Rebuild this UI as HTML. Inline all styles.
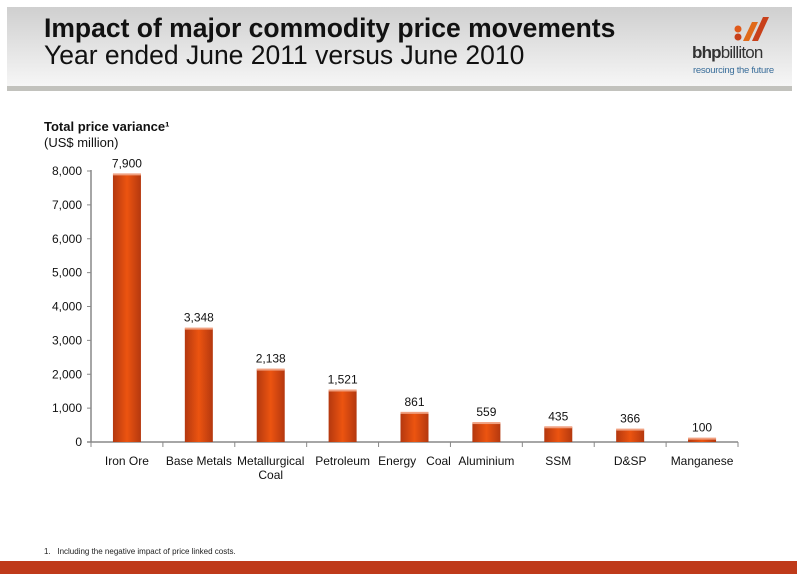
<!DOCTYPE html>
<html><head><meta charset="utf-8"><style>
body{margin:0;width:797px;height:574px;background:#fff;font-family:"Liberation Sans",Arial,sans-serif;position:relative;overflow:hidden}
#hdr{position:absolute;left:7px;top:7px;width:785px;height:79px;background:linear-gradient(#cfcfcf,#f6f6f6)}
#hdrbar{position:absolute;left:7px;top:86px;width:785px;height:5px;background:#c2c2bd}
#t1{position:absolute;left:44px;top:13px;font-size:26.5px;font-weight:bold;color:#111}
#t2{position:absolute;left:44px;top:40px;font-size:26.5px;color:#111}
#logo1{position:absolute;left:692px;top:43px;font-size:17px;font-weight:bold;color:#333;letter-spacing:-0.8px}
#logo2{position:absolute;left:693px;top:65px;font-size:9.5px;color:#3a6e9a;letter-spacing:-0.3px}
#foot{position:absolute;left:44px;top:547px;font-size:8px;color:#222}
#bot{position:absolute;left:0;top:561px;width:797px;height:13px;background:#bf3a1a}
</style></head><body>
<div id="hdr"></div>
<div id="hdrbar"></div>
<div id="t1">Impact of major commodity price movements</div>
<div id="t2">Year ended June 2011 versus June 2010</div>
<svg style="position:absolute;left:733px;top:15px" width="40" height="28">
<circle cx="5" cy="14" r="3.5" fill="#e05a1a"/><circle cx="5" cy="22" r="3.5" fill="#c8401a"/>
<path d="M10 26 L19 7 L25 7 L16 26Z" fill="#e06a1a"/><path d="M19 26 L30 2 L36 2 L25 26Z" fill="#c8401a"/></svg>
<div id="logo1">bhp<span style="font-weight:normal">billiton</span></div>
<div id="logo2">resourcing the future</div>
<svg style="position:absolute;left:0;top:0" width="797" height="574" id="chart">
<defs><linearGradient id="g" x1="0" x2="1"><stop offset="0" stop-color="#b4380f"/><stop offset="0.5" stop-color="#ec5410"/><stop offset="1" stop-color="#b4380f"/></linearGradient></defs>
<text x="44" y="131" font-size="13" font-weight="bold" fill="#111">Total price variance¹</text>
<text x="44" y="147" font-size="13" fill="#111">(US$ million)</text>
</svg>
<div id="foot">1.&nbsp;&nbsp;&nbsp;Including the negative impact of price linked costs.</div>
<div id="bot"></div>
<script>
const categories=["Iron Ore","Base Metals","Metallurgical|Coal","Petroleum","Energy\u00a0\u00a0 Coal","Aluminium","SSM","D&SP","Manganese"];
const values=[7900,3348,2138,1521,861,559,435,366,100];
const valueLabels=["7,900","3,348","2,138","1,521","861","559","435","366","100"];
const ticks=[0,1000,2000,3000,4000,5000,6000,7000,8000];
const tickLabels=["0","1,000","2,000","3,000","4,000","5,000","6,000","7,000","8,000"];
const svg=document.getElementById('chart');const NS="http://www.w3.org/2000/svg";
const x0=91,x1=738,yb=442,yt=171,max=8000;
const y=v=>yb-(v/max)*(yb-yt);const bw=(x1-x0)/categories.length;const xc=i=>x0+bw*(i+0.5);
function mk(t,a,p){const e=document.createElementNS(NS,t);for(const k in a)e.setAttribute(k,a[k]);(p||svg).appendChild(e);return e;}
let ax=mk('line',{x1:x0,y1:yt-1,x2:x0,y2:yb,stroke:'#888','stroke-width':1.5});


let bx=mk('line',{x1:x0-4,y1:yb,x2:x1,y2:yb,stroke:'#888','stroke-width':1.5});


ticks.forEach((t,i)=>{mk('line',{x1:x0-4,x2:x0,y1:y(t),y2:y(t),stroke:'#888'});
const tx=mk('text',{x:x0-9,y:y(t)+4,'text-anchor':'end','font-size':12,fill:'#111'});tx.textContent=tickLabels[i];

});
for(let i=0;i<=categories.length;i++)mk('line',{x1:x0+bw*i,x2:x0+bw*i,y1:yb,y2:yb+5,stroke:'#888'});
values.forEach((v,i)=>{const cx=xc(i);
const r=mk('rect',{x:cx-14,y:y(v),width:28,height:yb-y(v),fill:'url(#g)'});


mk('rect',{x:cx-14,y:y(v)-1,width:28,height:2,fill:'#f0a080'});
const l=mk('text',{x:cx,y:y(v)-7,'text-anchor':'middle','font-size':12,fill:'#111'});l.textContent=valueLabels[i];


categories[i].split('|').forEach((s,j)=>{const c=mk('text',{x:cx,y:yb+23+j*14,'text-anchor':'middle','font-size':12,fill:'#111'});c.textContent=s;

});});
</script>
</body></html>
